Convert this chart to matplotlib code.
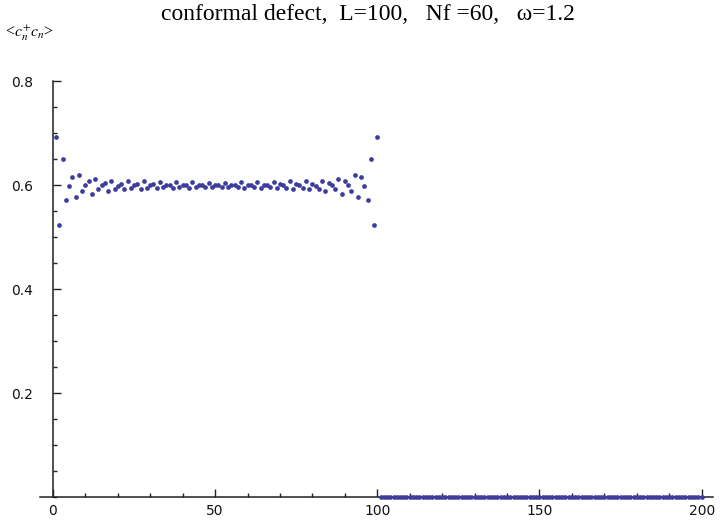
import matplotlib.pyplot as plt
from matplotlib.ticker import MultipleLocator

# site occupation <c_n^+ c_n> along the chain, sites 1..200
SITES = list(range(1, 201))
OCC_LEFT = [
    0.692, 0.523, 0.650, 0.572, 0.599, 0.615, 0.577, 0.619, 0.588, 0.600,
    0.608, 0.583, 0.612, 0.593, 0.600, 0.603, 0.588, 0.608, 0.592, 0.599,
    0.602, 0.592, 0.608, 0.595, 0.600, 0.602, 0.593, 0.607, 0.595, 0.600,
    0.602, 0.594, 0.606, 0.596, 0.600, 0.601, 0.595, 0.605, 0.596, 0.600,
    0.601, 0.595, 0.605, 0.596, 0.600, 0.601, 0.596, 0.604, 0.597, 0.600,
]
OCC_RIGHT = [
    0.600, 0.597, 0.604, 0.596, 0.601, 0.600, 0.596, 0.605, 0.595, 0.601,
    0.600, 0.596, 0.605, 0.595, 0.601, 0.600, 0.596, 0.606, 0.594, 0.602,
    0.600, 0.595, 0.607, 0.593, 0.602, 0.600, 0.595, 0.608, 0.592, 0.602,
    0.599, 0.592, 0.608, 0.588, 0.603, 0.600, 0.593, 0.612, 0.583, 0.608,
    0.600, 0.588, 0.619, 0.577, 0.615, 0.599, 0.572, 0.650, 0.523, 0.692,
]
OCC_EMPTY = [0.0] * 100
OCCUPATION = OCC_LEFT + OCC_RIGHT + OCC_EMPTY

TITLE = "conformal defect,  L=100,   Nf =60,   \u03c9=1.2"
POINT_COLOR = "#3d3d9e"
AXIS_COLOR = "#222222"

plt.rcParams["mathtext.fontset"] = "stix"

fig = plt.figure(figsize=(7.28, 5.21), dpi=100)
ax = fig.add_axes([0.0549, 0.046, 0.9245, 0.7985])

ax.plot(SITES, OCCUPATION, "o", ms=3.4, mec="none", color=POINT_COLOR,
        clip_on=False, zorder=5)

ax.set_xlim(-4.0, 203.5)
ax.set_ylim(0, 0.8)

# mathematica-style axes crossing at the origin
for side in ("top", "right"):
    ax.spines[side].set_visible(False)
ax.spines["left"].set_position(("data", 0))
for side in ("left", "bottom"):
    ax.spines[side].set_color(AXIS_COLOR)
    ax.spines[side].set_linewidth(1.1)

ax.xaxis.set_major_locator(MultipleLocator(50))
ax.xaxis.set_minor_locator(MultipleLocator(10))
ax.yaxis.set_major_locator(MultipleLocator(0.2))
ax.yaxis.set_minor_locator(MultipleLocator(0.05))
ax.set_yticks([0.2, 0.4, 0.6, 0.8])

ax.tick_params(which="both", direction="in", color=AXIS_COLOR, width=1.0,
               labelcolor="#111111")
ax.tick_params(which="major", length=5.5)
ax.tick_params(which="minor", length=3.2)
ax.tick_params(axis="x", pad=5)
ax.tick_params(axis="y", pad=14)
for lab in ax.get_xticklabels() + ax.get_yticklabels():
    lab.set_family("DejaVu Sans")
    lab.set_fontsize(10)

fig.text(0.505, 0.973, TITLE, ha="center", va="center",
         family="Liberation Serif", fontsize=17)
fig.text(0.007, 0.937, r"<$c_n^{+}c_n$>", ha="left", va="center",
         family="Liberation Serif", fontsize=11.5)

fig.savefig("out.png", dpi=100, facecolor="white")
